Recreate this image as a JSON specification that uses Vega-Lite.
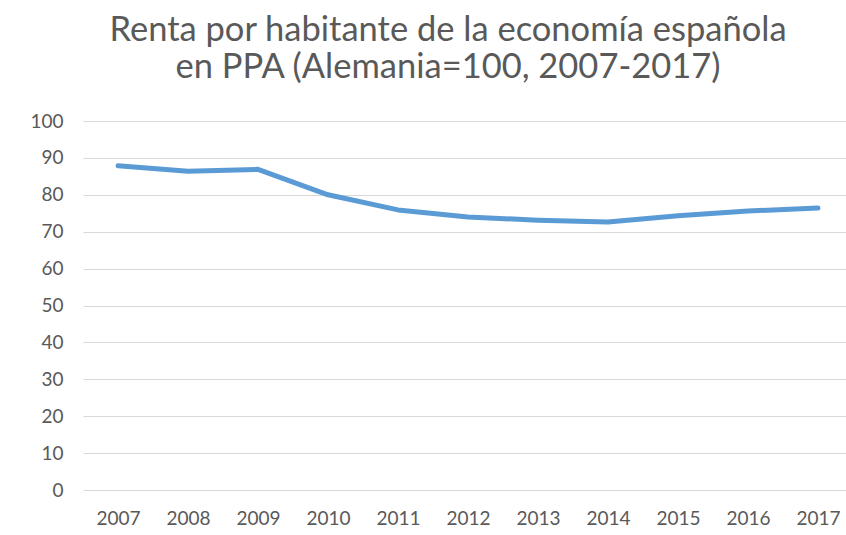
{
  "$schema": "https://vega.github.io/schema/vega-lite/v6.json",
  "width": 770,
  "height": 369,
  "autosize": {"type": "none"},
  "padding": {"left": 83, "top": 121, "right": -7, "bottom": 45},
  "background": "white",
  "title": {
    "text": ["Renta por habitante de la economía española", "en PPA (Alemania=100, 2007-2017)"],
    "font": "Lato",
    "fontSize": 34.5,
    "fontWeight": "normal",
    "color": "#595959",
    "anchor": "middle",
    "frame": "group",
    "dx": -20,
    "offset": 27,
    "lineHeight": 37
  },
  "config": {
    "view": {"stroke": null},
    "axis": {
      "labelFont": "Lato",
      "labelFontSize": 19,
      "labelColor": "#595959",
      "domain": false,
      "ticks": false,
      "title": null
    }
  },
  "data": {
    "values": [
      {"year": "2007", "value": 87.9},
      {"year": "2008", "value": 86.4},
      {"year": "2009", "value": 86.9},
      {"year": "2010", "value": 80.0},
      {"year": "2011", "value": 75.9},
      {"year": "2012", "value": 74.0},
      {"year": "2013", "value": 73.1},
      {"year": "2014", "value": 72.6},
      {"year": "2015", "value": 74.3},
      {"year": "2016", "value": 75.6},
      {"year": "2017", "value": 76.4}
    ]
  },
  "mark": {"type": "line", "color": "#5B9BD5", "strokeWidth": 5, "strokeCap": "round", "strokeJoin": "round"},
  "encoding": {
    "x": {
      "field": "year",
      "type": "ordinal",
      "scale": {"type": "point", "padding": 0.5},
      "axis": {"labelAngle": 0, "labelPadding": 19, "grid": false}
    },
    "y": {
      "field": "value",
      "type": "quantitative",
      "scale": {"domain": [0, 100], "nice": false},
      "axis": {"values": [0, 10, 20, 30, 40, 50, 60, 70, 80, 90, 100], "labelPadding": 20, "grid": true, "gridColor": "#D9D9D9", "gridWidth": 1}
    }
  }
}
